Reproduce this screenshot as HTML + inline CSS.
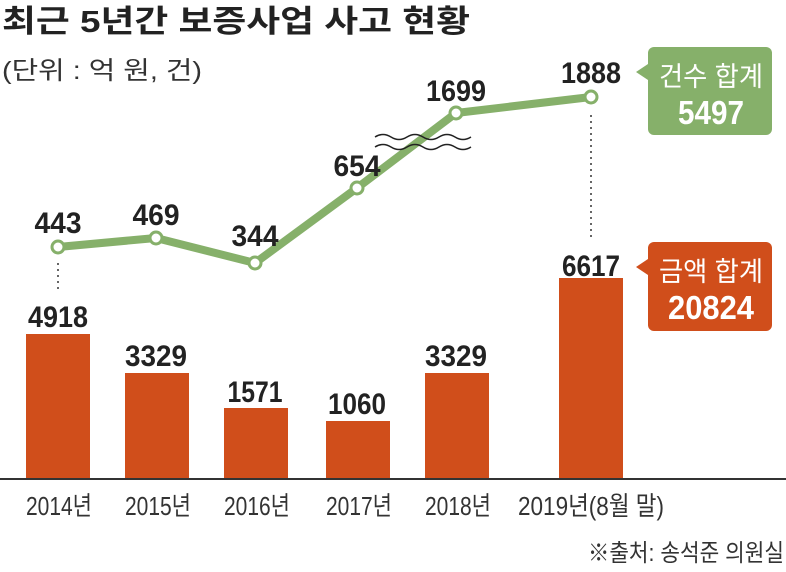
<!DOCTYPE html>
<html><head><meta charset="utf-8"><style>
body{margin:0;background:#fff;}
svg text{font-family:"Liberation Sans","Noto Sans CJK KR",sans-serif;}
</style></head><body>
<svg width="786" height="567" viewBox="0 0 786 567" xmlns="http://www.w3.org/2000/svg">
<text x="2" y="32" font-size="31" font-weight="bold" fill="#222" textLength="468" lengthAdjust="spacingAndGlyphs">최근 5년간 보증사업 사고 현황</text>
<text x="2" y="79" font-size="25" fill="#333" textLength="200" lengthAdjust="spacingAndGlyphs">(단위 : 억 원, 건)</text>
<g fill="#d04e1b">
<rect x="26" y="334" width="64" height="145"/>
<rect x="125" y="373" width="64" height="106"/>
<rect x="224" y="408" width="64" height="71"/>
<rect x="326" y="421" width="64" height="58"/>
<rect x="425" y="373" width="64" height="106"/>
<rect x="559" y="278" width="64" height="201"/>
</g>
<line x1="0" y1="479" x2="786" y2="479" stroke="#333" stroke-width="2"/>
<g stroke="#333" stroke-width="1.5" stroke-dasharray="2,4">
<line x1="58" y1="263" x2="58" y2="290"/>
<line x1="591" y1="115" x2="591" y2="240"/>
</g>
<polyline points="58,247 156,238 255,263 357,188 456,113 591,97" fill="none" stroke="#86b06a" stroke-width="8" stroke-linejoin="round"/>
<g fill="none" stroke="#222" stroke-width="1.5">
<path d="M375,137 q8,-5 16,0 t16,0 t16,0 t16,0 t16,0 t16,0"/>
<path d="M375,147 q8,-5 16,0 t16,0 t16,0 t16,0 t16,0 t16,0"/>
</g>
<g fill="#fff" stroke="#86b06a" stroke-width="3">
<circle cx="58" cy="247" r="6"/><circle cx="156" cy="238" r="6"/><circle cx="255" cy="263" r="6"/>
<circle cx="357" cy="188" r="6"/><circle cx="456" cy="113" r="6"/><circle cx="591" cy="97" r="6"/>
</g>
<g font-size="30" font-weight="bold" fill="#222" text-anchor="middle" lengthAdjust="spacingAndGlyphs">
<text x="58" y="233" textLength="47" lengthAdjust="spacingAndGlyphs">443</text>
<text x="156" y="225" textLength="47" lengthAdjust="spacingAndGlyphs">469</text>
<text x="255" y="246" textLength="47" lengthAdjust="spacingAndGlyphs">344</text>
<text x="357" y="176" textLength="47" lengthAdjust="spacingAndGlyphs">654</text>
<text x="456" y="101" textLength="60" lengthAdjust="spacingAndGlyphs">1699</text>
<text x="591" y="83" textLength="60" lengthAdjust="spacingAndGlyphs">1888</text>
<text x="58" y="327" textLength="60" lengthAdjust="spacingAndGlyphs">4918</text>
<text x="156" y="366" textLength="62" lengthAdjust="spacingAndGlyphs">3329</text>
<text x="255" y="402" textLength="55" lengthAdjust="spacingAndGlyphs">1571</text>
<text x="357" y="414" textLength="58" lengthAdjust="spacingAndGlyphs">1060</text>
<text x="456" y="366" textLength="62" lengthAdjust="spacingAndGlyphs">3329</text>
<text x="591" y="276" textLength="58" lengthAdjust="spacingAndGlyphs">6617</text>
</g>
<rect x="648" y="47" width="124" height="88" rx="6" fill="#86b06a"/>
<polygon points="648,64 636,72 648,80" fill="#86b06a"/>
<text x="711" y="86" text-anchor="middle" font-size="27" fill="#fff" textLength="104" lengthAdjust="spacingAndGlyphs">건수 합계</text>
<text x="711" y="124" text-anchor="middle" font-size="33" font-weight="bold" fill="#fff" textLength="66" lengthAdjust="spacingAndGlyphs">5497</text>
<rect x="648" y="242" width="124" height="89" rx="6" fill="#d04e1b"/>
<polygon points="648,259 636,267 648,275" fill="#d04e1b"/>
<text x="711" y="281" text-anchor="middle" font-size="27" fill="#fff" textLength="104" lengthAdjust="spacingAndGlyphs">금액 합계</text>
<text x="711" y="319" text-anchor="middle" font-size="33" font-weight="bold" fill="#fff" textLength="86" lengthAdjust="spacingAndGlyphs">20824</text>
<g font-size="26" fill="#333" text-anchor="middle">
<text x="59" y="515" textLength="66" lengthAdjust="spacingAndGlyphs">2014년</text>
<text x="158" y="515" textLength="66" lengthAdjust="spacingAndGlyphs">2015년</text>
<text x="257" y="515" textLength="66" lengthAdjust="spacingAndGlyphs">2016년</text>
<text x="359" y="515" textLength="66" lengthAdjust="spacingAndGlyphs">2017년</text>
<text x="458" y="515" textLength="66" lengthAdjust="spacingAndGlyphs">2018년</text>
<text x="591" y="515" textLength="146" lengthAdjust="spacingAndGlyphs">2019년(8월 말)</text>
</g>
<text x="784" y="561" text-anchor="end" font-size="24" fill="#333" textLength="196" lengthAdjust="spacingAndGlyphs">※출처: 송석준 의원실</text>
</svg>
</body></html>
